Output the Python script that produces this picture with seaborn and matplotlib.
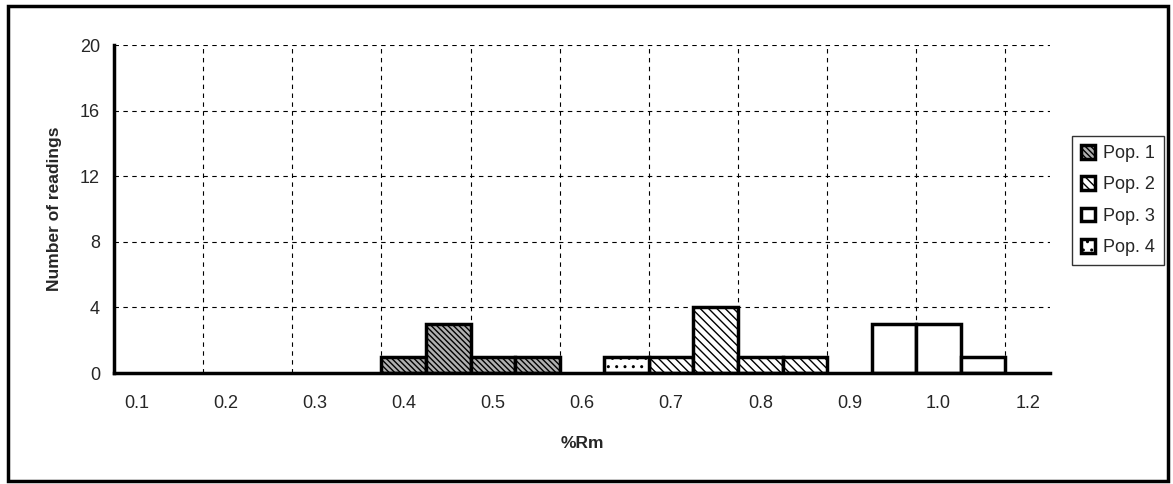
import numpy as np
import pandas as pd
import matplotlib
matplotlib.use("Agg")
import matplotlib.pyplot as plt
import seaborn as sns

sns.set_style("white")
plt.rcParams['font.family'] = ['Liberation Sans', 'DejaVu Sans']
plt.rcParams['hatch.linewidth'] = 1.0

# bins (%Rm categories, 0.05 wide) -- label shown on every second bin
bins = ['0.1', '0.15', '0.2', '0.25', '0.3', '0.35', '0.4', '0.45', '0.5', '0.55', '0.6',
        '0.65', '0.7', '0.75', '0.8', '0.85', '0.9', '0.95', '1.0', '1.1', '1.2']
pops = ['Pop. 1', 'Pop. 2', 'Pop. 3', 'Pop. 4']

pop1_bins = ['0.4', '0.45', '0.5', '0.55']
pop1_counts = [1, 3, 1, 1]
pop2_bins = ['0.7', '0.75', '0.8', '0.85']
pop2_counts = [1, 4, 1, 1]
pop3_bins = ['0.95', '1.0', '1.1']
pop3_counts = [3, 3, 1]
pop4_bins = ['0.65']
pop4_counts = [1]

df = pd.concat([
    pd.DataFrame({'bin': pop1_bins, 'count': pop1_counts, 'pop': 'Pop. 1'}),
    pd.DataFrame({'bin': pop2_bins, 'count': pop2_counts, 'pop': 'Pop. 2'}),
    pd.DataFrame({'bin': pop3_bins, 'count': pop3_counts, 'pop': 'Pop. 3'}),
    pd.DataFrame({'bin': pop4_bins, 'count': pop4_counts, 'pop': 'Pop. 4'}),
], ignore_index=True)

hatches = {'Pop. 1': '\\\\\\\\\\\\', 'Pop. 2': '\\\\\\\\', 'Pop. 3': '', 'Pop. 4': '..'}
fills = {'Pop. 1': '#b0b0b0', 'Pop. 2': 'white', 'Pop. 3': 'white', 'Pop. 4': 'white'}

fig = plt.figure(figsize=(11.73, 4.84), dpi=100)
ax = fig.add_axes([114 / 1173, 111 / 484, 936 / 1173, 328 / 484])

sns.barplot(data=df, x='bin', y='count', hue='pop', order=bins, hue_order=pops,
            dodge=False, width=1, palette=fills, saturation=1,
            edgecolor='black', linewidth=2.5, legend=False, ax=ax)

for cont, p in zip(ax.containers, pops):
    for bar in cont:
        bar.set_hatch(hatches[p])

ax.set_xlim(-0.5, 20.5)
ax.set_ylim(0, 20)

# ticks at bin edges (every 2 bins), labels centred on bins
ax.set_xticks(np.arange(-0.5, 20, 2))
ax.set_xticklabels([])
ax.set_xticks(np.arange(0, 21, 2), minor=True)
ax.set_xticklabels(bins[::2], minor=True)
ax.tick_params(axis='x', which='major', direction='inout', length=8, width=2, color='black')
ax.tick_params(axis='x', which='minor', length=0, pad=16, labelsize=13)
ax.set_yticks(np.arange(0, 21, 4))
ax.tick_params(axis='y', direction='inout', length=8, width=2, color='black', pad=6, labelsize=13)

ax.set_axisbelow(True)
ax.grid(True, which='major', color='black', linestyle=(0, (4, 4)), linewidth=0.8)
ax.xaxis.grid(True, which='major')
ax.xaxis.grid(False, which='minor')

for s in ['top', 'right']:
    ax.spines[s].set_visible(False)
for s in ['left', 'bottom']:
    ax.spines[s].set_linewidth(2.5)
    ax.spines[s].set_color('black')

ax.set_xlabel('%Rm', fontsize=12.5, fontweight='bold', labelpad=17)
ax.set_ylabel('Number of readings', fontsize=12.5, fontweight='bold', labelpad=13)

handles = [cont.patches[0] for cont in ax.containers]
leg = fig.legend(handles, pops, loc='upper left', bbox_to_anchor=(1072 / 1173, 1 - 136 / 484),
                 frameon=True, fancybox=False, edgecolor='black', fontsize=13,
                 handlelength=0.8, handleheight=0.8, handletextpad=0.4,
                 labelspacing=0.78, borderpad=0.5, borderaxespad=0)
leg.get_frame().set_linewidth(1.0)

# outer chart frame
fig.add_artist(plt.Rectangle((8 / 1173, 3 / 484), 1160 / 1173, 475 / 484,
                             transform=fig.transFigure, fill=False,
                             edgecolor='black', linewidth=2.5))

fig.savefig('out.png', dpi=100)
